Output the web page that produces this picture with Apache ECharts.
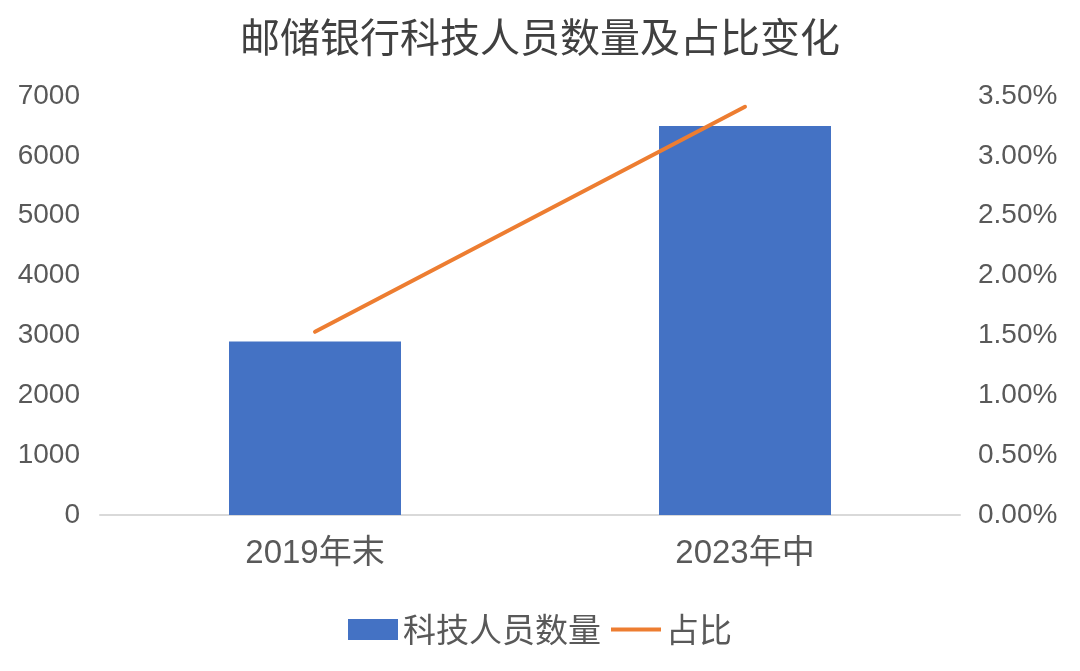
<!DOCTYPE html>
<html>
<head>
<meta charset="utf-8">
<script src="https://cdn.jsdelivr.net/npm/echarts@6/dist/echarts.min.js"></script>
<style>
	html, body { margin: 0; padding: 0; background: #fff; }
	#chart { width: 1080px; height: 671px; }
</style>
</head>
<body>
<div id="chart"></div>
<script>
	// 数据
	var categories = ["2019年末", "2023年中"];
	var staffCount = [2900, 6500];      // 科技人员数量
	var staffRatio = [1.53, 3.41];      // 占比 (%)
	var leftTicks = { min: 0, max: 7000, interval: 1000 };
	var rightTicks = { min: 0, max: 3.5, interval: 0.5 };

	var FONT = "'Liberation Sans', 'Noto Sans CJK SC', sans-serif";
	var CJK = "'Noto Sans CJK SC', sans-serif";
	var TXT = "#595959";

	var myChart = echarts.init(document.getElementById("chart"));
	myChart.setOption({
		animation: false,
		textStyle: { fontFamily: FONT },
		title: {
			text: "邮储银行科技人员数量及占比变化",
			left: "center",
			top: 12,
			textStyle: {
				fontFamily: CJK,
				fontSize: 40,
				fontWeight: "normal",
				color: "#404040"
			}
		},
		legend: {
			bottom: 20,
			left: "center",
			itemWidth: 50,
			itemHeight: 21,
			itemGap: 10,
			symbolKeepAspect: true,
			textStyle: {
				fontFamily: CJK,
				fontSize: 33,
				color: TXT
			},
			data: [
				{ name: "科技人员数量", icon: "rect" },
				{ name: "占比", icon: "path://M0,0 L100,0 L100,8 L0,8 Z", itemStyle: { color: "#ED7D31" } }
			]
		},
		grid: {
			left: 100,
			right: 120,
			top: 96,
			bottom: 156,
			containLabel: false
		},
		xAxis: {
			type: "category",
			data: categories,
			axisLine: { lineStyle: { color: "#D9D9D9", width: 2 } },
			axisTick: { show: false },
			axisLabel: {
				fontSize: 33,
				color: TXT,
				margin: 22,
				fontFamily: FONT
			}
		},
		yAxis: [{
			type: "value",
			min: leftTicks.min,
			max: leftTicks.max,
			interval: leftTicks.interval,
			splitLine: { show: false },
			axisLine: { show: false },
			axisTick: { show: false },
			axisLabel: {
				fontSize: 28,
				color: TXT,
				margin: 20,
				formatter: function(v) { return String(v); }
			}
		}, {
			type: "value",
			position: "right",
			min: rightTicks.min,
			max: rightTicks.max,
			interval: rightTicks.interval,
			splitLine: { show: false },
			axisLine: { show: false },
			axisTick: { show: false },
			axisLabel: {
				fontSize: 28,
				color: TXT,
				margin: 18,
				formatter: function(v) { return v.toFixed(2) + "%"; }
			}
		}],
		series: [{
			name: "科技人员数量",
			type: "bar",
			data: staffCount,
			barWidth: "40%",
			itemStyle: { color: "#4472C4" }
		}, {
			name: "占比",
			type: "line",
			yAxisIndex: 1,
			data: staffRatio,
			symbol: "none",
			lineStyle: { color: "#ED7D31", width: 4, cap: "round" },
			itemStyle: { color: "#ED7D31" }
		}]
	});
</script>
</body>
</html>
